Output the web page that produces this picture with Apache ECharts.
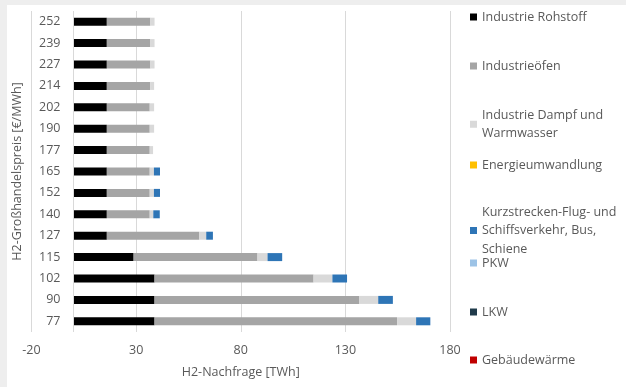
<!DOCTYPE html>
<html>
<head>
<meta charset="utf-8">
<script src="https://cdn.jsdelivr.net/npm/echarts@6/dist/echarts.min.js"></script>
<style>
  body { margin: 0; background: #eeeeee; }
  #paper { position: absolute; left: 7px; top: 5px; width: 619px; height: 382px; background: #ffffff; }
  #main { position: absolute; left: 0; top: 0; width: 626px; height: 387px; }
</style>
</head>
<body>
<div id="paper"></div>
<div id="main"></div>
<script>
// Kategorien (H2-Großhandelspreis, von unten nach oben)
const prices = ['77', '90', '102', '115', '127', '140', '152', '165', '177', '190', '202', '214', '227', '239', '252'];

// H2-Nachfrage je Sektor [TWh]
const industrieRohstoff = [38.8, 38.8, 38.8, 28.8, 16, 16, 16, 16, 16, 16, 16, 16, 16, 16, 16];
const industrieOefen    = [115.9, 97.9, 76.0, 59.2, 44.2, 20.5, 20.5, 20.5, 20.5, 20.5, 20.5, 20.7, 20.8, 20.8, 20.8];
const industrieDampf    = [9.1, 9.0, 9.0, 4.8, 3.3, 1.7, 2.0, 2.0, 1.6, 2.1, 2.1, 1.9, 2.0, 2.0, 2.0];
const energieumwandlung = [0, 0, 0, 0, 0, 0, 0, 0, 0, 0, 0, 0, 0, 0, 0];
const kurzstrecken      = [6.8, 7.0, 7.0, 7.0, 3.2, 3.1, 2.9, 2.9, 0, 0, 0, 0, 0, 0, 0];
const pkw               = [0, 0, 0, 0, 0, 0, 0, 0, 0, 0, 0, 0, 0, 0, 0];
const lkw               = [0, 0, 0, 0, 0, 0, 0, 0, 0, 0, 0, 0, 0, 0, 0];
const gebaeudewaerme    = [0, 0, 0, 0, 0, 0, 0, 0, 0, 0, 0, 0, 0, 0, 0];

const sectors = [
  { name: 'Industrie Rohstoff', label: 'Industrie Rohstoff', data: industrieRohstoff, color: '#000000' },
  { name: 'Industrieöfen', label: 'Industrieöfen', data: industrieOefen, color: '#a5a5a5' },
  { name: 'Industrie Dampf und Warmwasser', label: 'Industrie Dampf und\nWarmwasser', data: industrieDampf, color: '#d9d9d9' },
  { name: 'Energieumwandlung', label: 'Energieumwandlung', data: energieumwandlung, color: '#ffc000' },
  { name: 'Kurzstrecken-Flug- und Schiffsverkehr, Bus, Schiene', label: 'Kurzstrecken-Flug- und\nSchiffsverkehr, Bus,\nSchiene', data: kurzstrecken, color: '#2e75b6' },
  { name: 'PKW', label: 'PKW', data: pkw, color: '#9dc3e6' },
  { name: 'LKW', label: 'LKW', data: lkw, color: '#1f3a4a' },
  { name: 'Gebäudewärme', label: 'Gebäudewärme', data: gebaeudewaerme, color: '#c00000' }
];

// Legendenposition (Mitte des Symbols, px)
const legendCenters = [15, 64, 113, 163, 210, 261, 310, 358];

const FONT = 'Open Sans';
const TXT = '#595959';
const LH = 18.5;

const chart = echarts.init(document.getElementById('main'), null, { renderer: 'canvas' });

// eine Legende pro Eintrag, damit mehrzeilige Texte oben am Symbol stehen
const legends = sectors.map((s, i) => {
  const lines = s.label.split('\n').length;
  return {
    data: [s.name],
    left: 470,
    top: legendCenters[i] - lines * LH / 2 + 2,
    padding: 0,
    orient: 'vertical',
    icon: 'rect',
    itemWidth: 7,
    itemHeight: 7,
    itemGap: 5,
    selectedMode: false,
    formatter: () => s.label,
    textStyle: {
      fontFamily: FONT,
      fontSize: 12.5,
      color: TXT,
      lineHeight: LH,
      padding: [(lines - 1) * LH, 0, 0, 0]
    }
  };
});

const series = sectors.map(s => ({
  name: s.name,
  type: 'bar',
  stack: 'total',
  barWidth: 8,
  itemStyle: { color: s.color },
  data: s.data
}));

// senkrechte Achsenlinie bei 0
series[0].markLine = {
  silent: true,
  symbol: 'none',
  label: { show: false },
  lineStyle: { color: '#d9d9d9', type: 'solid', width: 1 },
  data: [{ xAxis: 0 }]
};

const option = {
  animation: false,
  backgroundColor: 'transparent',
  grid: { left: 31.5, right: 176, top: 11, bottom: 55, containLabel: false, outerBoundsMode: 'none' },
  legend: legends,
  xAxis: {
    type: 'value',
    min: -20,
    max: 180,
    interval: 50,
    name: 'H2-Nachfrage [TWh]',
    nameLocation: 'middle',
    nameGap: 34,
    nameTextStyle: { fontFamily: FONT, fontSize: 12.5, color: TXT },
    axisLine: { show: false },
    axisTick: { show: false },
    axisLabel: { fontFamily: FONT, fontSize: 12.5, color: TXT, margin: 12 },
    splitLine: { showMinLine: true, showMaxLine: true, lineStyle: { color: '#d9d9d9', width: 1 } }
  },
  yAxis: {
    type: 'category',
    data: prices,
    name: 'H2-Großhandelspreis [€/MWh]',
    nameLocation: 'middle',
    nameGap: 1,
    nameTextStyle: { fontFamily: FONT, fontSize: 12.5, color: TXT },
    axisLine: { show: false, onZero: false },
    axisTick: { show: false },
    axisLabel: { fontFamily: FONT, fontSize: 12.5, color: TXT, margin: -29 }
  },
  series: series
};

chart.setOption(option);
</script>
</body>
</html>
